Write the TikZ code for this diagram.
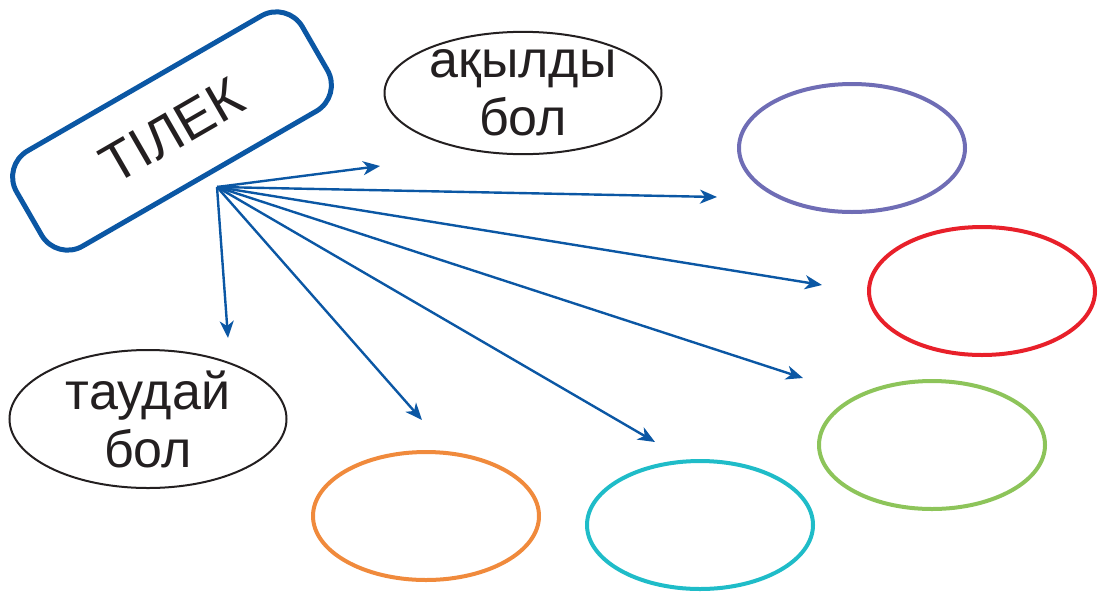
\documentclass[tikz,border=0pt]{standalone}
\usepackage{fontspec}
\setmainfont{Liberation Sans}
\usetikzlibrary{shapes.geometric,arrows.meta}
\definecolor{tilekblue}{HTML}{0B57A4}
\definecolor{inkblack}{HTML}{231F20}
\definecolor{wishpurple}{HTML}{6F6DB5}
\definecolor{wishred}{HTML}{E8202A}
\definecolor{wishgreen}{HTML}{8DC45A}
\definecolor{wishcyan}{HTML}{1FBCC8}
\definecolor{wishorange}{HTML}{F08A3C}

\begin{document}
\begin{tikzpicture}[x=1pt,y=-1pt, text=inkblack,
    wish/.style={ellipse, draw, line width=4pt, minimum width=226pt, minimum height=128pt, inner sep=0pt},
    said/.style={ellipse, draw=inkblack, line width=2pt, inner sep=0pt, align=center, font=\fontsize{52}{58}\selectfont},
    arr/.style={draw=tilekblue, line width=2.4pt, -{Stealth[length=17pt,width=14pt,inset=5pt]}}]
    \useasboundingbox (0,0) rectangle (1102,595);

    \node at (172,131) [rectangle, rounded corners=30pt, draw=tilekblue, line width=5pt, minimum width=330pt, minimum height=110pt, rotate=30, font=\fontsize{55}{60}\selectfont] (Tilek) {ТІЛЕК};

    \node at (523,93) [said, minimum width=277pt, minimum height=110pt] (Aqyldy) {ақылды\\бол};
    \node at (148,419) [said, minimum width=277pt, minimum height=138pt] (Taudai) {таудай\\бол};

    \node at (852,148) [wish, draw=wishpurple] (Purple) {};
    \node at (982,291) [wish, draw=wishred] (Red) {};
    \node at (932,445) [wish, draw=wishgreen] (Green) {};
    \node at (700,525) [wish, draw=wishcyan] (Cyan) {};
    \node at (426,516) [wish, draw=wishorange] (Orange) {};

    % arrow ends stop short of the ovals
    \coordinate (Hub) at (217,187);
    \coordinate (toAqyldy) at (380,166);
    \coordinate (toPurple) at (717,197);
    \coordinate (toRed) at (822,285);
    \coordinate (toGreen) at (803,378);
    \coordinate (toCyan) at (655,442);
    \coordinate (toOrange) at (422,420);
    \coordinate (toTaudai) at (228,338);

    \draw[arr] (Hub) -- (toAqyldy);
    \draw[arr] (Hub) -- (toPurple);
    \draw[arr] (Hub) -- (toRed);
    \draw[arr] (Hub) -- (toGreen);
    \draw[arr] (Hub) -- (toCyan);
    \draw[arr] (Hub) -- (toOrange);
    \draw[arr] (Hub) -- (toTaudai);
\end{tikzpicture}
\end{document}
